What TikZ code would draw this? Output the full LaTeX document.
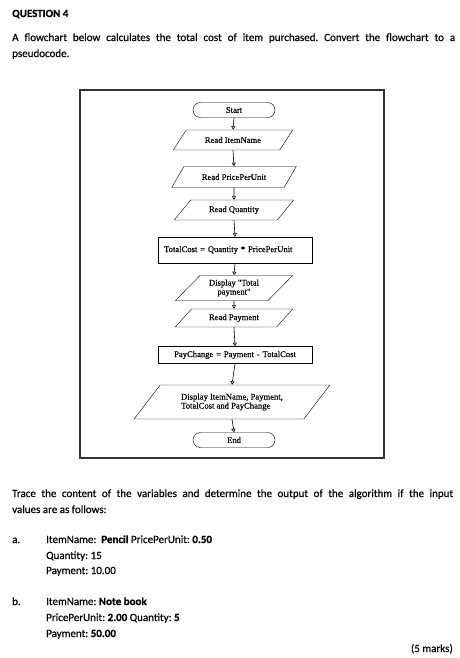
\documentclass[tikz,border=0pt]{standalone}
\usepackage{fontspec}
\setmainfont{Carlito}[FakeBold=0.5]
\newfontfamily\tnr{Liberation Serif}[FakeBold=0.4]
\usetikzlibrary{shapes.geometric,arrows.meta}
\frenchspacing
\tikzset{
  fc/.style={font=\tnr\fontsize{8.6}{9}\selectfont, inner sep=1pt, align=center},
  term/.style={fc, draw, rounded corners=7.5pt, minimum width=82pt, minimum height=15pt},
  io/.style={fc, draw, trapezium, trapezium left angle=45, trapezium right angle=135,
     trapezium stretches=true, minimum width=120pt, minimum height=20pt},
  proc/.style={fc, draw, rectangle, minimum width=154pt, text width=142pt, align=left, inner xsep=6pt},
  flow/.style={line width=0.6pt, -{Triangle[open,length=3.5pt,width=4pt]}},
  txt/.style={font=\fontsize{11}{13}\selectfont, anchor=base west, inner sep=0pt},
}
\begin{document}
\begin{tikzpicture}[x=1pt,y=-1pt]
\useasboundingbox (0,0) rectangle (459,658);
\fill[white] (0,0) rectangle (459,658);
% header text
\node[txt, font=\bfseries\fontsize{11}{13}\selectfont] (q) at (12,17) {QUESTION 4};
\node[txt] (p1) at (12,41) {\makebox[443pt][s]{A flowchart below calculates the total cost of item purchased. Convert the flowchart to a}};
\node[txt] (p2) at (12,57) {pseudocode.};
% frame
\draw[line width=1.1pt, black!80] (80,90) rectangle (384,458);
% flowchart
\node[term] (start) at (234,110) {Start};
\node[io] (n1) at (233,140) {Read ItemName};
\node[io, minimum width=125pt, minimum height=21pt] (n2) at (234,177) {Read PricePerUnit};
\node[io] (n3) at (234,210) {Read Quantity};
\node[proc, minimum height=26pt] (n4) at (235,250) {TotalCost = Quantity * PricePerUnit};
\node[io, minimum width=118pt, minimum height=25pt] (n5) at (234,288) {Display "Total\\payment"};
\node[io, minimum width=118pt, minimum height=18pt] (n6) at (234,318) {Read Payment};
\node[proc, minimum height=17pt, align=center] (n7) at (235,355) {PayChange = Payment - TotalCost};
\node[io, minimum width=196pt, minimum height=34pt, align=left] (n8) at (232,402) {Display ItemName, Payment,\\TotalCost and PayChange};
\node[term] (end) at (234,440) {End};
\foreach \a/\b in {start/n1,n1/n2,n2/n3,n3/n4,n4/n5,n5/n6,n6/n7,n7/n8,n8/end}
  \draw[flow] (\a.south) -- (\b.north);
% lower text
\node[txt] (t1) at (12,497) {\makebox[441pt][s]{Trace the content of the variables and determine the output of the algorithm if the input}};
\node[txt] (t2) at (12,513) {values are as follows:};
\node[txt] (a) at (12,543) {a.};
\node[txt] (a1) at (46,543) {ItemName:\ \ \textbf{Pencil} PricePerUnit: \textbf{0.50}};
\node[txt] (a2) at (46,559) {Quantity: 15};
\node[txt] (a3) at (46,574) {Payment: 10.00};
\node[txt] (b) at (12,605) {b.};
\node[txt] (b1) at (46,605) {ItemName: \textbf{Note book}};
\node[txt] (b2) at (46,621) {PricePerUnit: \textbf{2.00} Quantity: \textbf{5}};
\node[txt] (b3) at (46,637) {Payment: \textbf{50.00}};
\node[txt, anchor=base east] (m) at (453,652) {(5 marks)};
\end{tikzpicture}
\end{document}
